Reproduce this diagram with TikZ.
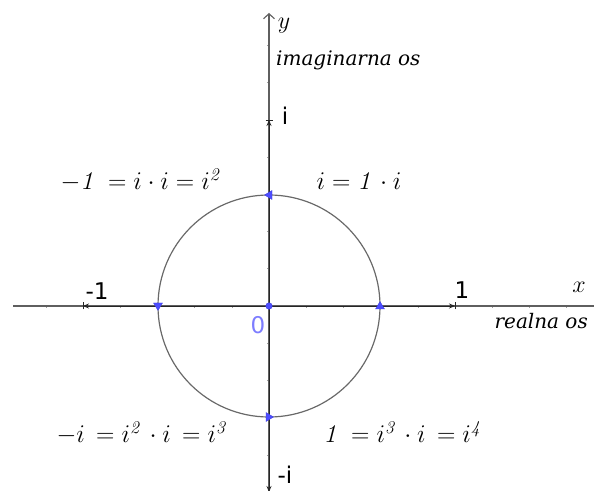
\RequirePackage{fix-cm}
\documentclass[tikz,border=0pt]{standalone}
\usepackage{fontspec}
\newfontfamily\lblfont{DejaVu Sans}
\newfontfamily\axfont{DejaVu Serif}
\usetikzlibrary{arrows.meta}
\definecolor{ptblue}{RGB}{77,77,255}
\definecolor{ptedge}{RGB}{60,60,220}
\definecolor{lblblue}{RGB}{125,125,255}
\definecolor{axgray}{RGB}{95,95,95}
\definecolor{circgray}{RGB}{105,105,105}
\tikzset{
  axis/.style={draw=axgray, line width=1.1pt},
  tickmark/.style={draw=axgray!60, line width=0.6pt},
  vec/.style={draw=black!85, line width=0.9pt, -{Stealth[length=6pt,width=5pt]}},
  endtick/.style={draw=black!85, line width=0.8pt},
  sanslbl/.style={font=\lblfont\fontsize{23}{26}\selectfont, inner sep=0pt},
  itlbl/.style={font=\axfont\fontsize{20}{24}\selectfont\itshape, inner sep=0pt},
  eqlbl/.style={font=\fontsize{25.5}{30}\selectfont, inner sep=0pt},
  tri/.style={fill=ptblue, draw=ptedge, line width=0.3pt}
}
\newcommand\bluetri[2]{\path[tri, shift={#1}, rotate=#2] (0,4.5) -- (-4.5,-3) -- (4.5,-3) -- cycle;}
\begin{document}
\begin{tikzpicture}[x=1pt,y=1pt]
\useasboundingbox (0,0) rectangle (594,490);
\coordinate (O) at (269,184);
\coordinate (E) at (455,184);
\coordinate (W) at (83,184);
\coordinate (N) at (269,370);
\coordinate (S) at (269,-2);
\coordinate (XL) at (13,184);
\coordinate (XR) at (596,184);
\coordinate (YT) at (269,477);
\coordinate (YB) at (269,-8);
% ticks
\foreach \k in {-6,...,8} \draw[tickmark] ({269+37.2*\k},184) -- ++(0,-2.5);
\foreach \k in {-4,...,7} \draw[tickmark] (269,{184+37.2*\k}) -- ++(-2.5,0);
% axes
\draw[axis] (XL) -- (XR);
\draw[axis, -{Straight Barb[length=5pt,width=11pt]}] (YB) -- (YT);
% circle
\draw[draw=circgray, line width=1.2pt] (O) circle[radius=111];
% vectors
\draw[vec] (O) -- (E);
\draw[vec] (O) -- (W);
\draw[vec] (O) -- (N);
\draw[vec] (O) -- (S);
\draw[endtick] ([yshift=-3.5pt]E) -- ([yshift=3.5pt]E);
\draw[endtick] ([yshift=-3.5pt]W) -- ([yshift=3.5pt]W);
\draw[endtick] ([xshift=-3.5pt]N) -- ([xshift=3.5pt]N);
% blue markers
\bluetri{(380,184)}{0}
\bluetri{(158,184)}{180}
\bluetri{(269,295)}{90}
\bluetri{(269,73)}{-90}
\fill[ptblue, draw=ptedge, line width=0.4pt] (O) circle[radius=3.3];
% labels
\node[font=\fontsize{24}{28}\selectfont, inner sep=0pt] (ylab) at (284,464) {$y$};
\node[itlbl, anchor=west] (imag) at (276,430) {imaginarna os};
\node[sanslbl] (ilab) at (285,374) {i};
\node[sanslbl] (m1lab) at (97,199) {-1};
\node[sanslbl] (p1lab) at (462,200) {1};
\node[font=\fontsize{24}{28}\selectfont, inner sep=0pt] (xlab) at (579,203) {$x$};
\node[itlbl, anchor=east] (real) at (588,169) {realna os};
\node[sanslbl, text=lblblue] (zlab) at (258,165) {0};
\node[sanslbl] (milab) at (285,15) {-i};
\node[eqlbl] (eq1) at (140,310) {$-\mathit{1}\ =i\cdot i=i^{\mathit{2}}$};
\node[eqlbl] (eq2) at (359,309) {$i=\mathit{1}\,\cdot i$};
\node[eqlbl] (eq3) at (141,57) {$-i\,=i^{\mathit{2}}\,\cdot i\,=i^{\mathit{3}}$};
\node[eqlbl] (eq4) at (402,58) {$\mathit{1}\ =i^{\mathit{3}}\,\cdot i\,=i^{\mathit{4}}$};
\end{tikzpicture}
\end{document}
